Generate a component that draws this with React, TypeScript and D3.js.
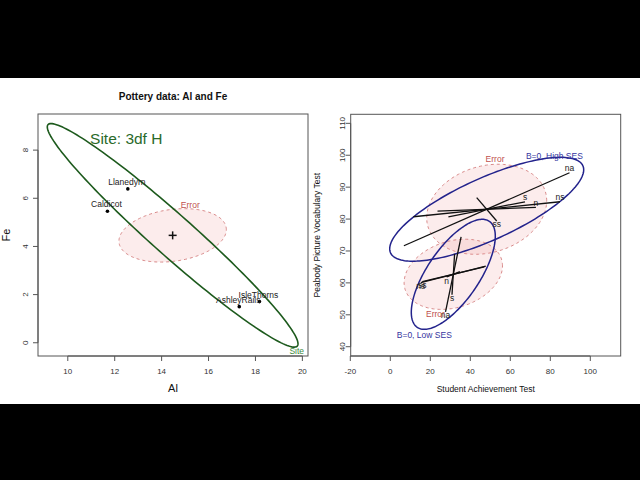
import React from "react";
import * as d3 from "d3";

const W = 640;
const H = 480;

// ---------- Left panel: Pottery data (Al, Fe) ----------
const potterySites = ["Llanedyrn", "Caldicot", "IsleThorns", "AshleyRails"];
const potteryAl = [12.56, 11.69, 18.17, 17.31];
const potteryFe = [6.39, 5.46, 1.71, 1.5];
const potteryMean = [14.47, 4.46];
const siteHShape = [
  [28.56, -24.06],
  [-24.06, 21.55],
];
const potteryEShape = [
  [5.24, 0.55],
  [0.55, 1.23],
];
const potteryXTicks = [10, 12, 14, 16, 18, 20];
const potteryYTicks = [0, 2, 4, 6, 8];
const siteTitleAnchor = [10.95, 8.24];

// ---------- Right panel: Rohwer data (SAT, PPVT) ----------
const sesGroups = ["High SES", "Low SES"];
const sesMeanSAT = [48.2, 31.5];
const sesMeanPPVT = [83.07, 62.69];
const sesEShape = [
  [
    [900, 80],
    [80, 199],
  ],
  [
    [605, 65],
    [65, 121],
  ],
];
const sesB0Shape = [
  [
    [2352, 600],
    [600, 265],
  ],
  [
    [441, 250],
    [250, 297],
  ],
];
const predictors = ["n", "s", "ns", "na", "ss"];
const highSAT = [24.6, 19.15, 36.65, 41.4, 5.0];
const highPPVT = [0.58, 2.35, 2.35, 11.44, -3.67];
const lowSAT = [3.3, 0.65, 16.25, 3.9, 15.5];
const lowPPVT = [0.85, 6.4, 2.6, 11.75, 2.3];
const rohwerXTicks = [-20, 0, 20, 40, 60, 80, 100];
const rohwerYTicks = [40, 50, 60, 70, 80, 90, 100, 110];

const FONT = "'Liberation Sans', Arial, Helvetica, sans-serif";
const GREEN = "#1d5a1d";
const BLUE = "#23238c";
const ERR_STROKE = "#d98a8a";
const ERR_TEXT = "#c0504d";

type Mat = number[][];

function ellipsePts(c: number[], S: Mat, n = 180): [number, number][] {
  const l11 = Math.sqrt(S[0][0]);
  const l21 = S[1][0] / l11;
  const l22 = Math.sqrt(Math.max(S[1][1] - l21 * l21, 0));
  return d3.range(n + 1).map((i) => {
    const t = (2 * Math.PI * i) / n;
    const a = Math.cos(t);
    const b = Math.sin(t);
    return [c[0] + l11 * a, c[1] + l21 * a + l22 * b] as [number, number];
  });
}
function topPt(c: number[], S: Mat) {
  const s = Math.sqrt(S[1][1]);
  return [c[0] + S[0][1] / s, c[1] + s];
}
function botPt(c: number[], S: Mat) {
  const s = Math.sqrt(S[1][1]);
  return [c[0] - S[0][1] / s, c[1] - s];
}

// Panel geometry
const L = { x0: 38, x1: 308, y0: 114, y1: 356 };
const R = { x0: 350.7, x1: 620.7, y0: 114.3, y1: 356 };

const xL = d3.scaleLinear().domain([8.73, 20.24]).range([L.x0, L.x1]);
const yL = d3.scaleLinear().domain([-0.55, 9.5]).range([L.y1, L.y0]);
const xR = d3.scaleLinear().domain([-19.8, 115.2]).range([R.x0, R.x1]);
const yR = d3.scaleLinear().domain([37.09, 112.83]).range([R.y1, R.y0]);

function Axes({
  box,
  xs,
  ys,
  xTicks,
  yTicks,
  xTitle,
  yTitle,
  yTickX,
  yTitleX,
  titleSize,
}: any) {
  const tickLen = 5;
  return (
    <g fontFamily={FONT}>
      <rect
        x={box.x0}
        y={box.y0}
        width={box.x1 - box.x0}
        height={box.y1 - box.y0}
        fill="none"
        stroke="#555"
        strokeWidth={1}
      />
      {/* x axis */}
      <line
        x1={xs(xTicks[0])}
        x2={xs(xTicks[xTicks.length - 1])}
        y1={box.y1}
        y2={box.y1}
        stroke="#555"
      />
      {xTicks.map((t: number) => (
        <g key={"x" + t}>
          <line x1={xs(t)} x2={xs(t)} y1={box.y1} y2={box.y1 + tickLen} stroke="#555" />
          <text x={xs(t)} y={box.y1 + 17.5} fontSize={8} textAnchor="middle" fill="#333">
            {t}
          </text>
        </g>
      ))}
      <line
        x1={box.x0}
        x2={box.x0}
        y1={ys(yTicks[0])}
        y2={ys(yTicks[yTicks.length - 1])}
        stroke="#555"
      />
      {yTicks.map((t: number) => (
        <g key={"y" + t}>
          <line x1={box.x0 - tickLen} x2={box.x0} y1={ys(t)} y2={ys(t)} stroke="#555" />
          <text
            transform={`translate(${yTickX},${ys(t)}) rotate(-90)`}
            fontSize={8}
            textAnchor="middle"
            fill="#333"
          >
            {t}
          </text>
        </g>
      ))}
      <text
        x={(box.x0 + box.x1) / 2}
        y={392}
        fontSize={titleSize}
        textAnchor="middle"
        fill="#111"
      >
        {xTitle}
      </text>
      <text
        transform={`translate(${yTitleX},${(box.y0 + box.y1) / 2}) rotate(-90)`}
        fontSize={titleSize}
        textAnchor="middle"
        fill="#111"
      >
        {yTitle}
      </text>
    </g>
  );
}

function LeftPanel() {
  const lineL = d3
    .line<[number, number]>()
    .x((d) => xL(d[0]))
    .y((d) => yL(d[1]));
  const ePath = lineL(ellipsePts(potteryMean, potteryEShape)) || "";
  const hPath = lineL(ellipsePts(potteryMean, siteHShape)) || "";
  const eTop = topPt(potteryMean, potteryEShape);
  const hBot = botPt(potteryMean, siteHShape);
  const mx = xL(potteryMean[0]);
  const my = yL(potteryMean[1]);
  return (
    <g fontFamily={FONT}>
      <text
        x={(L.x0 + L.x1) / 2}
        y={99.5}
        fontSize={10}
        fontWeight="bold"
        textAnchor="middle"
        fill="#111"
      >
        Pottery data: Al and Fe
      </text>
      <path d={ePath} fill="rgb(240,150,150)" fillOpacity={0.18} stroke={ERR_STROKE} strokeDasharray="3,3" strokeWidth={1} />
      <path d={hPath} fill="none" stroke={GREEN} strokeWidth={1.6} />
      <line x1={mx - 4} x2={mx + 4} y1={my} y2={my} stroke="#111" strokeWidth={1.5} />
      <line x1={mx} x2={mx} y1={my - 4} y2={my + 4} stroke="#111" strokeWidth={1.5} />
      {potterySites.map((s, i) => (
        <g key={s}>
          <circle cx={xL(potteryAl[i])} cy={yL(potteryFe[i])} r={1.8} fill="#000" />
          <text
            x={xL(potteryAl[i]) - 1}
            y={yL(potteryFe[i]) - 4}
            fontSize={8.5}
            textAnchor="middle"
            fill="#222"
          >
            {s}
          </text>
        </g>
      ))}
      <text x={xL(eTop[0]) + 6} y={yL(eTop[1]) - 0.5} fontSize={8.5} textAnchor="middle" fill={ERR_TEXT}>
        Error
      </text>
      <text x={xL(hBot[0]) + 2.5} y={yL(hBot[1]) + 6.8} fontSize={8.5} textAnchor="middle" fill="#3d8a3d">
        Site
      </text>
      <text x={xL(siteTitleAnchor[0])} y={yL(siteTitleAnchor[1])} fontSize={15.5} fill="#2a6a2a">
        Site: 3df H
      </text>
    </g>
  );
}

function RightPanel() {
  const lineR = d3
    .line<[number, number]>()
    .x((d) => xR(d[0]))
    .y((d) => yR(d[1]));
  const vecs = [
    { sat: highSAT, ppvt: highPPVT, labelEnd: 1 },
    { sat: lowSAT, ppvt: lowPPVT, labelEnd: -1 },
  ];
  return (
    <g fontFamily={FONT}>
      {sesGroups.map((g, gi) => {
        const c = [sesMeanSAT[gi], sesMeanPPVT[gi]];
        return (
          <path
            key={"e" + g}
            d={lineR(ellipsePts(c, sesEShape[gi])) || ""}
            fill="rgb(240,150,150)"
            fillOpacity={0.18}
            stroke={ERR_STROKE}
            strokeDasharray="3,3"
            strokeWidth={1}
          />
        );
      })}
      {sesGroups.map((g, gi) => {
        const c = [sesMeanSAT[gi], sesMeanPPVT[gi]];
        return (
          <path
            key={"b" + g}
            d={lineR(ellipsePts(c, sesB0Shape[gi])) || ""}
            fill="none"
            stroke={BLUE}
            strokeWidth={1.5}
          />
        );
      })}
      {sesGroups.map((g, gi) => {
        const c = [sesMeanSAT[gi], sesMeanPPVT[gi]];
        const v = vecs[gi];
        return (
          <g key={"l" + g}>
            {predictors.map((p, pi) => {
              const dx = v.sat[pi];
              const dy = v.ppvt[pi];
              const x1 = xR(c[0] - dx);
              const y1 = yR(c[1] - dy);
              const x2 = xR(c[0] + dx);
              const y2 = yR(c[1] + dy);
              const ex = xR(c[0] + v.labelEnd * dx);
              const eyData = v.labelEnd * dy;
              const ey = yR(c[1] + eyData);
              const ty = eyData >= 0 ? ey - 1.5 : ey + 6.5;
              return (
                <g key={p}>
                  <line x1={x1} y1={y1} x2={x2} y2={y2} stroke="#111" strokeWidth={1.3} />
                  <text x={ex} y={ty} fontSize={8.5} textAnchor="middle" fill="#222">
                    {p}
                  </text>
                </g>
              );
            })}
          </g>
        );
      })}
      {sesGroups.map((g, gi) => {
        const c = [sesMeanSAT[gi], sesMeanPPVT[gi]];
        const high = gi === 0;
        const eP = high ? topPt(c, sesEShape[gi]) : botPt(c, sesEShape[gi]);
        const bP = high ? topPt(c, sesB0Shape[gi]) : botPt(c, sesB0Shape[gi]);
        return (
          <g key={"t" + g}>
            <text
              x={xR(eP[0]) - (high ? 3 : 6)}
              y={yR(eP[1]) + (high ? -2 : 8)}
              fontSize={8.5}
              textAnchor="middle"
              fill={ERR_TEXT}
            >
              Error
            </text>
            <text
              x={xR(bP[0]) - (high ? 6 : 0)}
              y={yR(bP[1]) + (high ? 2 : 9)}
              fontSize={8.5}
              textAnchor="middle"
              fill="#3535a0"
            >
              {"B=0, " + g}
            </text>
          </g>
        );
      })}
    </g>
  );
}

export default function App() {
  return (
    <svg
      width={W}
      height={H}
      viewBox={`0 0 ${W} ${H}`}
      style={{ position: "absolute", left: 0, top: 0, background: "#fff" }}
    >
      <rect x={0} y={0} width={W} height={H} fill="#fff" />
      <rect x={0} y={0} width={W} height={78} fill="#000" />
      <rect x={0} y={404} width={W} height={H - 404} fill="#000" />
      <Axes
        box={L}
        xs={xL}
        ys={yL}
        xTicks={potteryXTicks}
        yTicks={potteryYTicks}
        xTitle="Al"
        yTitle="Fe"
        yTickX={28}
        yTitleX={10}
        titleSize={11}
      />
      <Axes
        box={R}
        xs={xR}
        ys={yR}
        xTicks={rohwerXTicks}
        yTicks={rohwerYTicks}
        xTitle="Student Achievement Test"
        yTitle="Peabody Picture Vocabulary Test"
        yTickX={344.5}
        yTitleX={320}
        titleSize={8.5}
      />
      <LeftPanel />
      <RightPanel />
    </svg>
  );
}
